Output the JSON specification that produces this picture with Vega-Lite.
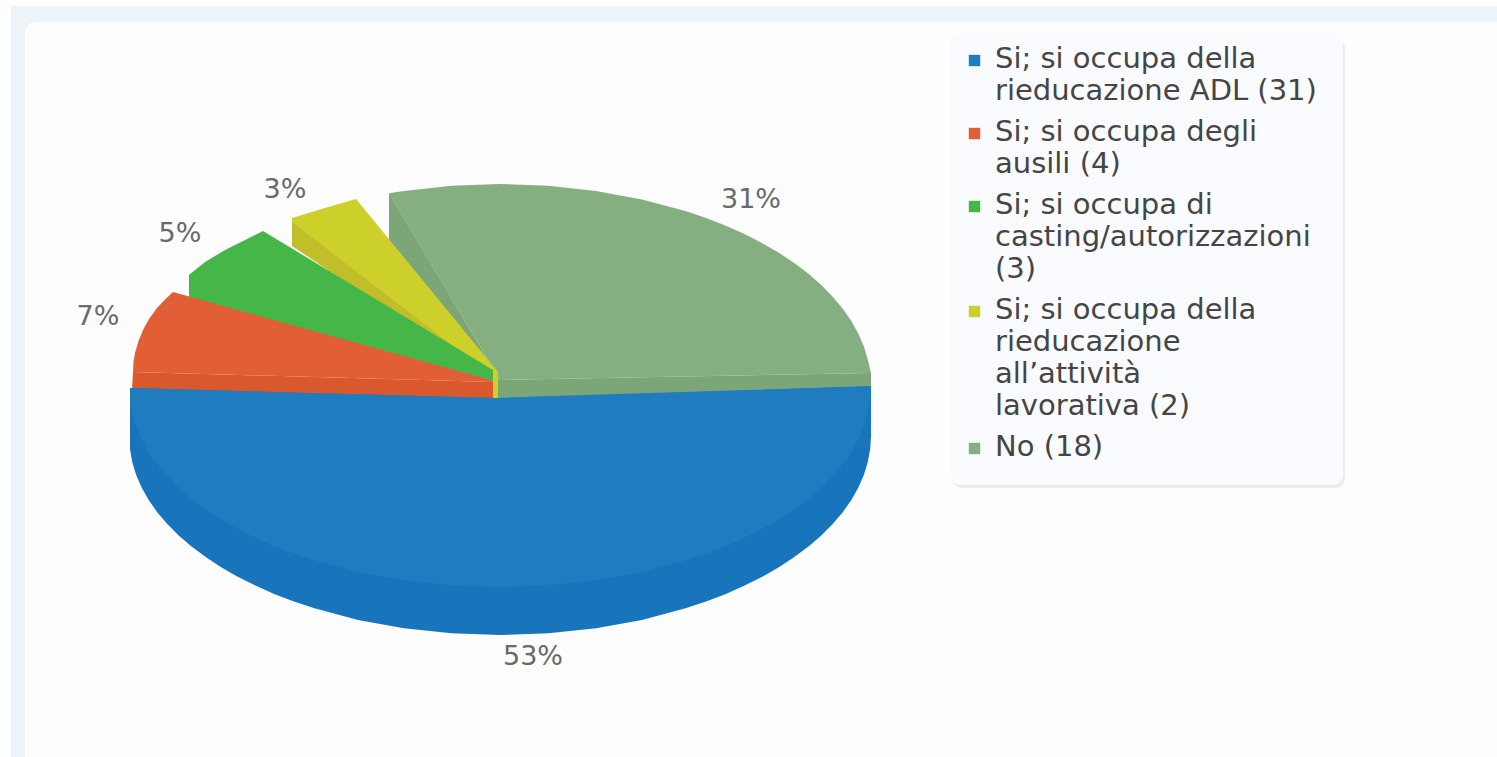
{
  "$schema": "https://vega.github.io/schema/vega-lite/v6.json",
  "width": 1497,
  "height": 757,
  "autosize": {"type": "fit", "contains": "padding"},
  "padding": 0,
  "background": "#ffffff",
  "view": {"stroke": null},
  "datasets": {
    "boxes": [
      {"box": "frame", "x0": 11, "x1": 1497, "y0": 6, "y1": 757},
      {"box": "panel", "x0": 25, "x1": 1497, "y0": 22, "y1": 757},
      {"box": "legendShadow", "x0": 952, "x1": 1345, "y0": 38, "y1": 488},
      {"box": "legendBox", "x0": 950, "x1": 1343, "y0": 34, "y1": 485}
    ],
    "sides": [
      {"shape": "sage side", "i": 1, "x": 389, "y": 193},
      {"shape": "sage side", "i": 2, "x": 389, "y": 240},
      {"shape": "sage side", "i": 3, "x": 492, "y": 380},
      {"shape": "sage side", "i": 4, "x": 497, "y": 398},
      {"shape": "sage side", "i": 5, "x": 871, "y": 386},
      {"shape": "sage side", "i": 6, "x": 871, "y": 373},
      {"shape": "sage side", "i": 7, "x": 500, "y": 380},

      {"shape": "yellow side", "i": 1, "x": 292, "y": 218},
      {"shape": "yellow side", "i": 2, "x": 292, "y": 246},
      {"shape": "yellow side", "i": 3, "x": 492, "y": 380},
      {"shape": "yellow side", "i": 4, "x": 497, "y": 372},

      {"shape": "red side", "i": 1, "x": 133, "y": 372},
      {"shape": "red side", "i": 2, "x": 132, "y": 390},
      {"shape": "red side", "i": 3, "x": 494, "y": 399},
      {"shape": "red side", "i": 4, "x": 494, "y": 382},

      {"shape": "blue side", "i": 1, "x": 871, "y": 386},
      {"shape": "blue side", "i": 2, "x": 871, "y": 436},
      {"shape": "blue side", "i": 3, "x": 870.2, "y": 449},
      {"shape": "blue side", "i": 4, "x": 867.8, "y": 462},
      {"shape": "blue side", "i": 5, "x": 863.9, "y": 474.8},
      {"shape": "blue side", "i": 6, "x": 858.4, "y": 487.5},
      {"shape": "blue side", "i": 7, "x": 851.3, "y": 500},
      {"shape": "blue side", "i": 8, "x": 842.8, "y": 512.2},
      {"shape": "blue side", "i": 9, "x": 832.7, "y": 524},
      {"shape": "blue side", "i": 10, "x": 821.3, "y": 535.5},
      {"shape": "blue side", "i": 11, "x": 808.5, "y": 546.6},
      {"shape": "blue side", "i": 12, "x": 794.3, "y": 557.1},
      {"shape": "blue side", "i": 13, "x": 778.9, "y": 567.2},
      {"shape": "blue side", "i": 14, "x": 762.3, "y": 576.7},
      {"shape": "blue side", "i": 15, "x": 744.6, "y": 585.6},
      {"shape": "blue side", "i": 16, "x": 725.9, "y": 593.9},
      {"shape": "blue side", "i": 17, "x": 706.1, "y": 601.5},
      {"shape": "blue side", "i": 18, "x": 685.5, "y": 608.3},
      {"shape": "blue side", "i": 19, "x": 642, "y": 619.9},
      {"shape": "blue side", "i": 20, "x": 596, "y": 628.2},
      {"shape": "blue side", "i": 21, "x": 548.4, "y": 633.3},
      {"shape": "blue side", "i": 22, "x": 500, "y": 635},
      {"shape": "blue side", "i": 23, "x": 451.6, "y": 633.3},
      {"shape": "blue side", "i": 24, "x": 404, "y": 628.2},
      {"shape": "blue side", "i": 25, "x": 358, "y": 619.9},
      {"shape": "blue side", "i": 26, "x": 314.5, "y": 608.3},
      {"shape": "blue side", "i": 27, "x": 293.9, "y": 601.5},
      {"shape": "blue side", "i": 28, "x": 274.1, "y": 593.9},
      {"shape": "blue side", "i": 29, "x": 255.4, "y": 585.6},
      {"shape": "blue side", "i": 30, "x": 237.7, "y": 576.7},
      {"shape": "blue side", "i": 31, "x": 221.1, "y": 567.2},
      {"shape": "blue side", "i": 32, "x": 205.7, "y": 557.1},
      {"shape": "blue side", "i": 33, "x": 191.5, "y": 546.6},
      {"shape": "blue side", "i": 34, "x": 178.7, "y": 535.5},
      {"shape": "blue side", "i": 35, "x": 167.3, "y": 524},
      {"shape": "blue side", "i": 36, "x": 157.2, "y": 512.2},
      {"shape": "blue side", "i": 37, "x": 148.7, "y": 500},
      {"shape": "blue side", "i": 38, "x": 141.6, "y": 487.5},
      {"shape": "blue side", "i": 39, "x": 136.1, "y": 474.8},
      {"shape": "blue side", "i": 40, "x": 132.2, "y": 462},
      {"shape": "blue side", "i": 41, "x": 130, "y": 449},
      {"shape": "blue side", "i": 42, "x": 130, "y": 388},
      {"shape": "blue side", "i": 43, "x": 495, "y": 398}
    ],
    "faces": [
      {"segment": "No (18)", "i": 1, "x": 389, "y": 193.3},
      {"segment": "No (18)", "i": 2, "x": 404, "y": 190.9},
      {"segment": "No (18)", "i": 3, "x": 451.6, "y": 185.7},
      {"segment": "No (18)", "i": 4, "x": 500, "y": 184},
      {"segment": "No (18)", "i": 5, "x": 548.4, "y": 185.7},
      {"segment": "No (18)", "i": 6, "x": 596, "y": 190.9},
      {"segment": "No (18)", "i": 7, "x": 642, "y": 199.4},
      {"segment": "No (18)", "i": 8, "x": 685.5, "y": 211.1},
      {"segment": "No (18)", "i": 9, "x": 706.1, "y": 218},
      {"segment": "No (18)", "i": 10, "x": 725.9, "y": 225.7},
      {"segment": "No (18)", "i": 11, "x": 744.6, "y": 234.1},
      {"segment": "No (18)", "i": 12, "x": 762.3, "y": 243.2},
      {"segment": "No (18)", "i": 13, "x": 778.9, "y": 252.8},
      {"segment": "No (18)", "i": 14, "x": 794.3, "y": 263},
      {"segment": "No (18)", "i": 15, "x": 808.5, "y": 273.8},
      {"segment": "No (18)", "i": 16, "x": 821.3, "y": 285},
      {"segment": "No (18)", "i": 17, "x": 832.7, "y": 296.7},
      {"segment": "No (18)", "i": 18, "x": 842.8, "y": 308.7},
      {"segment": "No (18)", "i": 19, "x": 851.3, "y": 321.1},
      {"segment": "No (18)", "i": 20, "x": 858.4, "y": 333.7},
      {"segment": "No (18)", "i": 21, "x": 863.9, "y": 346.6},
      {"segment": "No (18)", "i": 22, "x": 867.8, "y": 359.6},
      {"segment": "No (18)", "i": 23, "x": 871, "y": 373},
      {"segment": "No (18)", "i": 24, "x": 500, "y": 380},

      {"segment": "Si; si occupa della|rieducazione|all’attività|lavorativa (2)", "i": 1, "x": 292, "y": 218},
      {"segment": "Si; si occupa della|rieducazione|all’attività|lavorativa (2)", "i": 2, "x": 325, "y": 208},
      {"segment": "Si; si occupa della|rieducazione|all’attività|lavorativa (2)", "i": 3, "x": 356, "y": 199},
      {"segment": "Si; si occupa della|rieducazione|all’attività|lavorativa (2)", "i": 4, "x": 498, "y": 372},
      {"segment": "Si; si occupa della|rieducazione|all’attività|lavorativa (2)", "i": 5, "x": 498, "y": 398},
      {"segment": "Si; si occupa della|rieducazione|all’attività|lavorativa (2)", "i": 6, "x": 493, "y": 398},
      {"segment": "Si; si occupa della|rieducazione|all’attività|lavorativa (2)", "i": 7, "x": 493, "y": 377},
      {"segment": "Si; si occupa della|rieducazione|all’attività|lavorativa (2)", "i": 8, "x": 292, "y": 222},

      {"segment": "Si; si occupa di|casting/autorizzazioni|(3)", "i": 1, "x": 189, "y": 275},
      {"segment": "Si; si occupa di|casting/autorizzazioni|(3)", "i": 2, "x": 205, "y": 262},
      {"segment": "Si; si occupa di|casting/autorizzazioni|(3)", "i": 3, "x": 225, "y": 250},
      {"segment": "Si; si occupa di|casting/autorizzazioni|(3)", "i": 4, "x": 245, "y": 240},
      {"segment": "Si; si occupa di|casting/autorizzazioni|(3)", "i": 5, "x": 263, "y": 231},
      {"segment": "Si; si occupa di|casting/autorizzazioni|(3)", "i": 6, "x": 493, "y": 370},
      {"segment": "Si; si occupa di|casting/autorizzazioni|(3)", "i": 7, "x": 493, "y": 381},
      {"segment": "Si; si occupa di|casting/autorizzazioni|(3)", "i": 8, "x": 189, "y": 298},

      {"segment": "Si; si occupa degli|ausili (4)", "i": 1, "x": 173, "y": 292},
      {"segment": "Si; si occupa degli|ausili (4)", "i": 2, "x": 165, "y": 299.5},
      {"segment": "Si; si occupa degli|ausili (4)", "i": 3, "x": 157, "y": 308},
      {"segment": "Si; si occupa degli|ausili (4)", "i": 4, "x": 149, "y": 319},
      {"segment": "Si; si occupa degli|ausili (4)", "i": 5, "x": 143, "y": 330},
      {"segment": "Si; si occupa degli|ausili (4)", "i": 6, "x": 138.5, "y": 341},
      {"segment": "Si; si occupa degli|ausili (4)", "i": 7, "x": 135, "y": 353},
      {"segment": "Si; si occupa degli|ausili (4)", "i": 8, "x": 133.5, "y": 362},
      {"segment": "Si; si occupa degli|ausili (4)", "i": 9, "x": 133, "y": 372},
      {"segment": "Si; si occupa degli|ausili (4)", "i": 10, "x": 493, "y": 382},
      {"segment": "Si; si occupa degli|ausili (4)", "i": 11, "x": 491, "y": 380},

      {"segment": "Si; si occupa della|rieducazione ADL (31)", "i": 1, "x": 130, "y": 388},
      {"segment": "Si; si occupa della|rieducazione ADL (31)", "i": 2, "x": 495, "y": 398},
      {"segment": "Si; si occupa della|rieducazione ADL (31)", "i": 3, "x": 871, "y": 386},
      {"segment": "Si; si occupa della|rieducazione ADL (31)", "i": 4, "x": 870.2, "y": 401},
      {"segment": "Si; si occupa della|rieducazione ADL (31)", "i": 5, "x": 867.8, "y": 414},
      {"segment": "Si; si occupa della|rieducazione ADL (31)", "i": 6, "x": 863.9, "y": 426.8},
      {"segment": "Si; si occupa della|rieducazione ADL (31)", "i": 7, "x": 858.4, "y": 439.5},
      {"segment": "Si; si occupa della|rieducazione ADL (31)", "i": 8, "x": 851.3, "y": 452},
      {"segment": "Si; si occupa della|rieducazione ADL (31)", "i": 9, "x": 842.8, "y": 464.2},
      {"segment": "Si; si occupa della|rieducazione ADL (31)", "i": 10, "x": 832.7, "y": 476},
      {"segment": "Si; si occupa della|rieducazione ADL (31)", "i": 11, "x": 821.3, "y": 487.5},
      {"segment": "Si; si occupa della|rieducazione ADL (31)", "i": 12, "x": 808.5, "y": 498.6},
      {"segment": "Si; si occupa della|rieducazione ADL (31)", "i": 13, "x": 794.3, "y": 509.1},
      {"segment": "Si; si occupa della|rieducazione ADL (31)", "i": 14, "x": 778.9, "y": 519.2},
      {"segment": "Si; si occupa della|rieducazione ADL (31)", "i": 15, "x": 762.3, "y": 528.7},
      {"segment": "Si; si occupa della|rieducazione ADL (31)", "i": 16, "x": 744.6, "y": 537.6},
      {"segment": "Si; si occupa della|rieducazione ADL (31)", "i": 17, "x": 725.9, "y": 545.9},
      {"segment": "Si; si occupa della|rieducazione ADL (31)", "i": 18, "x": 706.1, "y": 553.5},
      {"segment": "Si; si occupa della|rieducazione ADL (31)", "i": 19, "x": 685.5, "y": 560.3},
      {"segment": "Si; si occupa della|rieducazione ADL (31)", "i": 20, "x": 642, "y": 571.9},
      {"segment": "Si; si occupa della|rieducazione ADL (31)", "i": 21, "x": 596, "y": 580.2},
      {"segment": "Si; si occupa della|rieducazione ADL (31)", "i": 22, "x": 548.4, "y": 585.3},
      {"segment": "Si; si occupa della|rieducazione ADL (31)", "i": 23, "x": 500, "y": 587},
      {"segment": "Si; si occupa della|rieducazione ADL (31)", "i": 24, "x": 451.6, "y": 585.3},
      {"segment": "Si; si occupa della|rieducazione ADL (31)", "i": 25, "x": 404, "y": 580.2},
      {"segment": "Si; si occupa della|rieducazione ADL (31)", "i": 26, "x": 358, "y": 571.9},
      {"segment": "Si; si occupa della|rieducazione ADL (31)", "i": 27, "x": 314.5, "y": 560.3},
      {"segment": "Si; si occupa della|rieducazione ADL (31)", "i": 28, "x": 293.9, "y": 553.5},
      {"segment": "Si; si occupa della|rieducazione ADL (31)", "i": 29, "x": 274.1, "y": 545.9},
      {"segment": "Si; si occupa della|rieducazione ADL (31)", "i": 30, "x": 255.4, "y": 537.6},
      {"segment": "Si; si occupa della|rieducazione ADL (31)", "i": 31, "x": 237.7, "y": 528.7},
      {"segment": "Si; si occupa della|rieducazione ADL (31)", "i": 32, "x": 221.1, "y": 519.2},
      {"segment": "Si; si occupa della|rieducazione ADL (31)", "i": 33, "x": 205.7, "y": 509.1},
      {"segment": "Si; si occupa della|rieducazione ADL (31)", "i": 34, "x": 191.5, "y": 498.6},
      {"segment": "Si; si occupa della|rieducazione ADL (31)", "i": 35, "x": 178.7, "y": 487.5},
      {"segment": "Si; si occupa della|rieducazione ADL (31)", "i": 36, "x": 167.3, "y": 476},
      {"segment": "Si; si occupa della|rieducazione ADL (31)", "i": 37, "x": 157.2, "y": 464.2},
      {"segment": "Si; si occupa della|rieducazione ADL (31)", "i": 38, "x": 148.7, "y": 452},
      {"segment": "Si; si occupa della|rieducazione ADL (31)", "i": 39, "x": 141.6, "y": 439.5},
      {"segment": "Si; si occupa della|rieducazione ADL (31)", "i": 40, "x": 136.1, "y": 426.8},
      {"segment": "Si; si occupa della|rieducazione ADL (31)", "i": 41, "x": 132.2, "y": 414},
      {"segment": "Si; si occupa della|rieducazione ADL (31)", "i": 42, "x": 130, "y": 401}
    ],
    "shares": [
      {"share": "53%", "x": 533, "y": 657},
      {"share": "7%", "x": 98, "y": 317},
      {"share": "5%", "x": 180, "y": 234},
      {"share": "3%", "x": 285, "y": 190},
      {"share": "31%", "x": 751, "y": 200}
    ]
  },
  "encoding": {
    "x": {"type": "quantitative", "scale": {"domain": [0, 1497], "nice": false, "zero": false}, "axis": null},
    "y": {"type": "quantitative", "scale": {"domain": [757, 0], "nice": false, "zero": false}, "axis": null}
  },
  "layer": [
    {
      "data": {"name": "boxes"},
      "transform": [{"filter": "datum.box === 'frame'"}],
      "mark": {"type": "rect", "fill": "#edf4f9"},
      "encoding": {"x": {"field": "x0"}, "x2": {"field": "x1"}, "y": {"field": "y0"}, "y2": {"field": "y1"}}
    },
    {
      "data": {"name": "boxes"},
      "transform": [{"filter": "datum.box === 'panel'"}],
      "mark": {"type": "rect", "fill": "#fdfdfd", "cornerRadiusTopLeft": 10},
      "encoding": {"x": {"field": "x0"}, "x2": {"field": "x1"}, "y": {"field": "y0"}, "y2": {"field": "y1"}}
    },
    {
      "data": {"name": "boxes"},
      "transform": [{"filter": "datum.box === 'legendShadow'"}],
      "mark": {"type": "rect", "fill": "#eaecee", "cornerRadius": 10},
      "encoding": {"x": {"field": "x0"}, "x2": {"field": "x1"}, "y": {"field": "y0"}, "y2": {"field": "y1"}}
    },
    {
      "data": {"name": "boxes"},
      "transform": [{"filter": "datum.box === 'legendBox'"}],
      "mark": {"type": "rect", "fill": "#f9fbfe", "cornerRadius": 10},
      "encoding": {"x": {"field": "x0"}, "x2": {"field": "x1"}, "y": {"field": "y0"}, "y2": {"field": "y1"}}
    },
    {
      "data": {"name": "sides"},
      "mark": {"type": "line", "filled": true},
      "encoding": {
        "x": {"field": "x"},
        "y": {"field": "y"},
        "order": {"field": "i", "type": "quantitative"},
        "color": {
          "field": "shape",
          "type": "nominal",
          "scale": {
            "domain": ["sage side", "yellow side", "red side", "blue side"],
            "range": ["#7ca578", "#c0bf2a", "#da582e", "#1874bb"]
          },
          "legend": null
        }
      }
    },
    {
      "data": {"name": "faces"},
      "mark": {"type": "line", "filled": true},
      "encoding": {
        "x": {"field": "x"},
        "y": {"field": "y"},
        "order": {"field": "i", "type": "quantitative"},
        "color": {
          "field": "segment",
          "type": "nominal",
          "sort": null,
          "scale": {
            "domain": [
              "Si; si occupa della|rieducazione ADL (31)",
              "Si; si occupa degli|ausili (4)",
              "Si; si occupa di|casting/autorizzazioni|(3)",
              "Si; si occupa della|rieducazione|all’attività|lavorativa (2)",
              "No (18)"
            ],
            "range": ["#1f7dbf", "#e25f35", "#45b748", "#cdcf2b", "#85af80"]
          },
          "legend": {
            "orient": "none",
            "legendX": 960,
            "legendY": 46,
            "title": null,
            "padding": 0,
            "symbolType": "square",
            "symbolSize": 130,
            "labelFont": "DejaVu Sans",
            "labelFontSize": 29,
            "labelColor": "#454545",
            "labelLimit": 400,
            "labelOffset": 6,
            "rowPadding": 11,
            "labelExpr": "split(datum.label, '|')",
            "labelBaseline": "top",
            "encoding": {
              "labels": {"lineHeight": {"value": 32}, "dy": {"value": -16}}
            }
          }
        }
      }
    },
    {
      "data": {"name": "shares"},
      "mark": {"type": "text", "font": "DejaVu Sans", "fontSize": 27, "color": "#6a6a6a", "align": "center", "baseline": "middle"},
      "encoding": {
        "x": {"field": "x"},
        "y": {"field": "y"},
        "text": {"field": "share"}
      }
    }
  ],
  "resolve": {"scale": {"color": "independent"}},
  "config": {"style": {"cell": {"stroke": null}}}
}
